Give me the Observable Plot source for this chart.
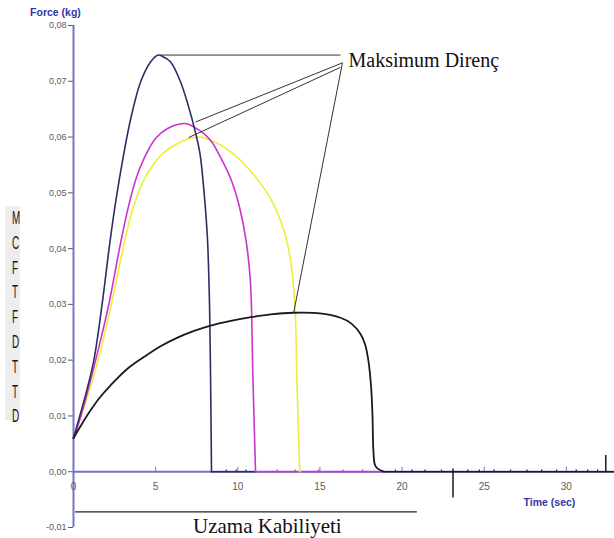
<!DOCTYPE html>
<html>
<head>
<meta charset="utf-8">
<script src="https://cdn.jsdelivr.net/npm/d3@7"></script>
<script src="https://cdn.jsdelivr.net/npm/@observablehq/plot@0.6"></script>
<style>
  body { margin: 0; background: #fff; }
  #wrap { position: relative; width: 614px; height: 538px; }
  #side { position: absolute; left: 5px; top: 206px; width: 15px; height: 214px; background: #ededed; }
  #side div { position: absolute; left: 7px; font: 18px "Liberation Sans", Arial, sans-serif; color: #15152a; line-height: 18px; white-space: nowrap; transform: scaleX(0.55); transform-origin: left top; }
</style>
</head>
<body>
<div id="wrap"><div id="chart"></div><div id="side"></div></div>
<script>
// ---- data (time in s, force in kg) ----
const navy = [[0,0.006],[0.4,0.0102],[0.8,0.0145],[1.24,0.020],[1.74,0.030],[2.21,0.041],[2.6,0.049],[3.0,0.056],[3.5,0.0635],[4.1,0.0700],[4.7,0.0735],[5.15,0.0747],[5.4,0.0745],[5.9,0.0735],[6.5,0.0700],[7.0,0.0655],[7.4,0.0611],[7.7,0.0570],[7.95,0.0500],[8.15,0.0420],[8.28,0.030],[8.35,0.015],[8.4,0]];
const magenta = [[0,0.006],[0.45,0.010],[1.35,0.020],[2.15,0.030],[2.8,0.040],[3.3,0.047],[3.8,0.0525],[4.3,0.0562],[5.0,0.0598],[5.7,0.0615],[6.4,0.0623],[6.9,0.0624],[7.4,0.0617],[7.9,0.0607],[8.4,0.0592],[8.96,0.0563],[9.6,0.0523],[10.1,0.0475],[10.5,0.0415],[10.77,0.0340],[10.92,0.0170],[11.08,0]];
const yellow = [[0,0.006],[0.8,0.013],[1.5,0.020],[2.3,0.030],[2.8,0.037],[3.2,0.0425],[3.65,0.0475],[4.2,0.0518],[4.8,0.0548],[5.5,0.0572],[6.3,0.0588],[7.0,0.0597],[7.7,0.0600],[8.35,0.0594],[9.0,0.0585],[9.8,0.0568],[10.6,0.0545],[11.6,0.0508],[12.2,0.0478],[12.7,0.0443],[13.05,0.0405],[13.3,0.0360],[13.5,0.0283],[13.6,0.0163],[13.77,0]];
const black = [[0,0.006],[0.5,0.0085],[1.04,0.011],[1.6,0.0133],[2.26,0.0155],[3.3,0.0185],[4.3,0.0206],[5.3,0.0225],[6.3,0.0240],[7.3,0.0252],[8.35,0.0262],[9.5,0.0270],[10.8,0.0277],[12.0,0.0282],[13.4,0.0285],[15.0,0.0284],[16.25,0.0276],[16.9,0.0266],[17.47,0.0247],[17.75,0.0228],[17.95,0.0199],[18.12,0.0150],[18.2,0.0100],[18.25,0.0040],[18.35,0.0012],[18.5,0.0006],[18.9,0]];
// flat tails along zero after each break: [from, to, series]
const tails = [[8.4,11.08,"navy"],[11.08,18.9,"magenta"],[18.9,32.93,"black"]];
const spikes = [[23.1,0.0005,-0.0047],[32.4,0,0.0029]];
const blips = [[9.3,"navy"],[9.9,"navy"],[10.5,"navy"],[12.4,"magenta"],[13.5,"magenta"],[14.9,"magenta"],[16.4,"magenta"],[17.6,"magenta"],[19.6,"black"],[20.6,"black"],[21.4,"black"],[22.4,"black"],[24.0,"black"],[24.7,"black"],[25.6,"black"],[26.6,"black"],[27.6,"black"],[28.5,"black"],[29.4,"black"],[30.6,"black"],[31.3,"black"],[31.9,"black"]];
const xTicks = [0,5,10,15,20,25,30];
const yTicks = [-0.01,0,0.01,0.02,0.03,0.04,0.05,0.06,0.07,0.08];
// annotation pointers: [x1,y1,x2,y2]
const pointers = [[5.3,0.0747,16.25,0.0747],[16.37,0.0733,7.43,0.0627],[16.25,0.0725,7.0,0.0599],[16.37,0.0733,13.4,0.0285]];
const uzamaLine = [[0.1,-0.0072,20.9,-0.0072]];
const notes = [{x:16.74, y:0.0725, text:"Maksimum Direnç"}];
const footNotes = [{x:11.8, y:-0.01094, text:"Uzama Kabiliyeti"}];
const axisTitles = [
  {x:-1.1, y:0.0823, text:"Force (kg)"},
  {x:28.97, y:-0.00555, text:"Time (sec)"}
];
const sideLetters = ["M","C","F","T","F","D","T","T","D"];

const colors = {navy: "#2e2e66", magenta: "#cc33cc", yellow: "#eded3a", black: "#1a1a1a"};
const fmt = d => d.toFixed(2).replace(".", ",");
const line = (data, key, w) => Plot.line(data, {x: d => d[0], y: d => d[1], stroke: colors[key], strokeWidth: w, curve: "catmull-rom"});
const serif = "Liberation Serif, Times New Roman, serif";

const chart = Plot.plot({
  width: 614, height: 538,
  marginLeft: 73, marginRight: 0, marginTop: 25, marginBottom: 11,
  style: {background: "#fff", fontFamily: "Liberation Sans, Arial, sans-serif", overflow: "visible"},
  x: {domain: [0, 32.93], axis: null},
  y: {domain: [-0.01, 0.08], axis: null},
  marks: [
    Plot.axisY(yTicks, {tickFormat: fmt, tickSize: 5, tickPadding: 2, fontSize: 9, color: "#5a5a5a", label: null}),
    Plot.ruleX([0], {y1: -0.01, y2: 0.08, stroke: "#7474c8", strokeWidth: 2}),
    Plot.ruleY([0], {stroke: "#7474c8", strokeWidth: 2}),
    Plot.ruleX(xTicks, {x: d => d, y1: 0, y2: 0.0008, stroke: "#7474c8", strokeWidth: 1}),
    Plot.text(xTicks, {x: d => d, y: 0, text: d => String(d), dy: 15, fontSize: 10, fill: "#5a5a5a"}),
    Plot.text(axisTitles, {x: "x", y: "y", text: "text", fontSize: 10.5, fontWeight: "bold", fill: "#3535a8"}),
    Plot.ruleY(tails, {y: 0, x1: d => d[0], x2: d => d[1], stroke: d => colors[d[2]], strokeWidth: 1.6}),
    line(yellow, "yellow", 1.6),
    line(magenta, "magenta", 1.6),
    line(navy, "navy", 1.6),
    line(black, "black", 1.8),
    Plot.ruleX(spikes, {x: d => d[0], y1: d => d[1], y2: d => d[2], stroke: colors.black, strokeWidth: 1.5}),
    Plot.ruleX(blips, {x: d => d[0], y1: 0, y2: 0.0003, stroke: d => colors[d[1]], strokeWidth: 1.2}),
    Plot.link(pointers, {x1: d => d[0], y1: d => d[1], x2: d => d[2], y2: d => d[3], stroke: "#333", strokeWidth: 1}),
    Plot.link(uzamaLine, {x1: d => d[0], y1: d => d[1], x2: d => d[2], y2: d => d[3], stroke: "#222", strokeWidth: 1.2}),
    Plot.text(notes, {x: "x", y: "y", text: "text", fontSize: 20, textAnchor: "start", lineAnchor: "bottom", fill: "#111", fontFamily: serif}),
    Plot.text(footNotes, {x: "x", y: "y", text: "text", fontSize: 21, textAnchor: "middle", lineAnchor: "bottom", fill: "#111", fontFamily: serif})
  ]
});
document.getElementById("chart").appendChild(chart);

const side = document.getElementById("side");
sideLetters.forEach((c, i) => {
  const el = document.createElement("div");
  el.textContent = c;
  el.style.top = (3 + i * 24.8) + "px";
  side.appendChild(el);
});
</script>
</body>
</html>
